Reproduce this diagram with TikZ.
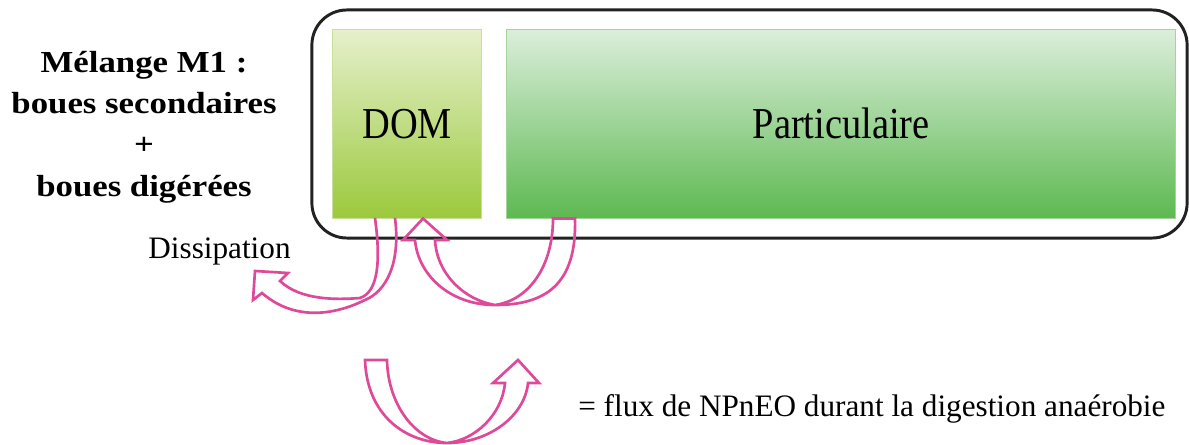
\documentclass[tikz,border=0pt]{standalone}
\usepackage{fontspec}
\setmainfont{Liberation Serif}
\newfontfamily\boxfont[FakeStretch=0.87]{Liberation Serif}
\newfontfamily\titlefont[FakeStretch=1.14]{Liberation Serif}
\usepackage{tikz}
\usetikzlibrary{positioning}

\definecolor{fluxpink}{RGB}{222,73,154}
\definecolor{frameblack}{RGB}{34,34,34}
\definecolor{domtop}{RGB}{230,240,204}
\definecolor{dommid}{RGB}{203,224,159}
\definecolor{dombot}{RGB}{155,201,60}
\definecolor{domline}{RGB}{200,224,154}
\definecolor{parttop}{RGB}{220,238,219}
\definecolor{partmid}{RGB}{163,212,156}
\definecolor{partbot}{RGB}{93,185,81}
\definecolor{partline}{RGB}{165,212,154}

\begin{document}
\begin{tikzpicture}[
    % one unit = one pixel of the original figure, y pointing down
    x=0.025cm, y=-0.025cm,
    % Define the styles of the boxes
    cadre/.style={draw=frameblack, line width=2.1pt, rounded corners=0.875cm,
        minimum width=21.875cm, minimum height=5.7cm, inner sep=0pt},
    dombox/.style={draw=domline, line width=0.6pt, top color=domtop, middle color=dommid,
        bottom color=dombot, minimum width=3.725cm, minimum height=4.725cm,
        inner sep=0pt, font=\boxfont\fontsize{31.4}{36}\selectfont},
    partbox/.style={draw=partline, line width=0.6pt, top color=parttop, middle color=partmid,
        bottom color=partbot, minimum width=16.725cm, minimum height=4.725cm,
        inner sep=0pt, font=\boxfont\fontsize{31.4}{36}\selectfont},
    % Define the style of the hollow flux arrows
    flux/.style={draw=fluxpink, line width=1.9pt, line join=miter},
    label/.style={inner sep=0pt, font=\fontsize{22.2}{26}\selectfont}
]

    \useasboundingbox (0,0) rectangle (1189,445);

    % --- The mixture and its two fractions ---
    \node[cadre] (mix) at (749.5,124) {};
    \node[dombox] (dom) at (407.25,123.75) {DOM};
    \node[partbox] (part) at (841.25,123.75) {Particulaire};

    % --- Title ---
    \node[inner sep=0pt, align=center, font=\titlefont\bfseries\fontsize{21.7}{29.3}\selectfont]
        (melange) at (144,127) {Mélange M1 :\\boues secondaires\\+\\boues digérées};

    % --- Dissipation arrow, from DOM down and to the left ---
    \draw[flux] (375,218) .. controls (381,262) and (378,292) .. (360,298)
        .. controls (335,300) and (300,300) .. (280,281)
        -- (288,273) -- (255,271) -- (253,300) -- (262,293)
        .. controls (300,326) and (345,310) .. (365,300)
        .. controls (385,292) and (401,265) .. (395,218);
    \node[label, anchor=base] (dissip) at (219.5,258.5) {Dissipation};

    % --- Arrow from Particulaire back to DOM ---
    \draw[flux] (553,218.5) .. controls (553,265) and (530,300) .. (495,305)
        .. controls (465,300) and (437,275) .. (435,240)
        -- (447,240) -- (423,218.5) -- (403,240) -- (415,240)
        .. controls (418,275) and (450,305) .. (495,305)
        .. controls (545,305) and (577,285) .. (575,218.5) -- cycle;

    % --- Legend ---
    \draw[flux] (387,360) .. controls (388,405) and (415,440) .. (447,443)
        .. controls (475,440) and (502,415) .. (505,383)
        -- (493,383) -- (518,360) -- (539,383) -- (528,383)
        .. controls (525,415) and (490,443) .. (447,443)
        .. controls (405,443) and (367,415) .. (365,360) -- cycle;
    \node[label, anchor=base west] (legende) at (578,416)
        {= flux de NPnEO durant la digestion anaérobie};

\end{tikzpicture}
\end{document}
